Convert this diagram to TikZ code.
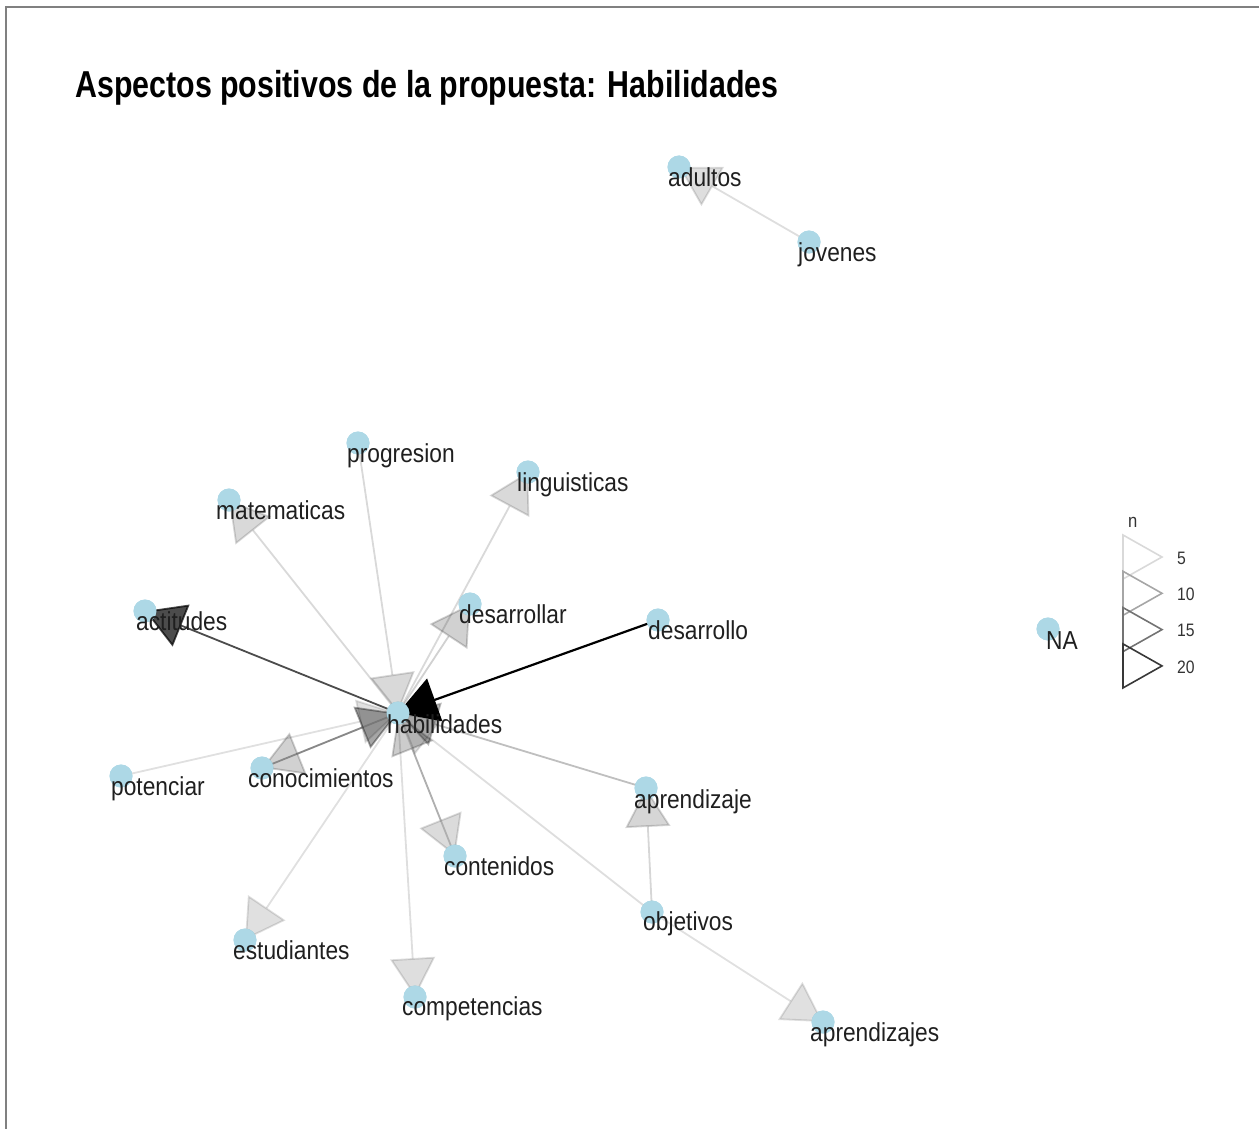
\documentclass[tikz,border=0pt]{standalone}
\usepackage{fontspec}
\setmainfont[FakeStretch=0.875]{Liberation Sans}
\newfontfamily\titlefont[FakeStretch=0.81]{Liberation Sans}
\usetikzlibrary{arrows.meta}

\begin{document}
\begin{tikzpicture}[x=1pt, y=-1pt,
    vtx/.style={circle, fill=lightblue, inner sep=0pt, minimum size=23pt},
    lbl/.style={anchor=base west, inner sep=0pt, text=black!88, font=\fontsize{26}{30}\selectfont},
    edge/.style={draw=black, line width=1.8pt, opacity=#1,
      -{Triangle[length=39pt, width=45pt]}},
    edge/.default=0.15]
  \definecolor{lightblue}{HTML}{ADD8E6}
  \useasboundingbox (0,0) rectangle (1259,1129);
  % marco de la captura
  \draw[gray, line width=2pt] (6,1129) -- (6,7) -- (1259,7);

  % titulo
  \node[anchor=base west, inner sep=0pt, font=\titlefont\bfseries\fontsize{37.5}{42}\selectfont] (title) at (75,98)
    {Aspectos positivos de la propuesta: Habilidades};

  % nodos (palabras)
  \node[vtx] (adu) at (679,167) {};
  \node[vtx] (jov) at (809,242) {};
  \node[vtx] (pro) at (358,443) {};
  \node[vtx] (lin) at (528,472) {};
  \node[vtx] (mat) at (229,500) {};
  \node[vtx] (act) at (145,611) {};
  \node[vtx] (dsr) at (470,604) {};
  \node[vtx] (des) at (658,620) {};
  \node[vtx] (na)  at (1048,629) {};
  \node[vtx] (hab) at (398,713) {};
  \node[vtx] (pot) at (121,776) {};
  \node[vtx] (con) at (262,768) {};
  \node[vtx] (apr) at (646,788) {};
  \node[vtx] (cnt) at (455,856) {};
  \node[vtx] (obj) at (652,912) {};
  \node[vtx] (est) at (245,940) {};
  \node[vtx] (cmp) at (415,997) {};
  \node[vtx] (aps) at (823,1022) {};

  % aristas (bigramas), opacidad segun n
  \draw[edge=0.12] (pot.center) -- (hab.center);
  \draw[edge=0.15] (pro.center) -- (hab.center);
  \draw[edge=0.15] (hab.center) -- (mat.center);
  \draw[edge=0.15] (hab.center) -- (lin.center);
  \draw[edge=0.18] (hab.center) -- (dsr.center);
  \draw[edge=0.18] (hab.center) -- (con.center);
  \draw[edge=0.35] (con.center) -- (hab.center);
  \draw[edge=0.25] (apr.center) -- (hab.center);
  \draw[edge=0.13] (obj.center) -- (hab.center);
  \draw[edge=0.16] (obj.center) -- (apr.center);
  \draw[edge=0.12] (obj.center) -- (aps.center);
  \draw[edge=0.14] (hab.center) -- (cnt.center);
  \draw[edge=0.20] (cnt.center) -- (hab.center);
  \draw[edge=0.13] (hab.center) -- (cmp.center);
  \draw[edge=0.12] (hab.center) -- (est.center);
  \draw[edge=0.13] (jov.center) -- (adu.center);
  \draw[edge=0.70] (hab.center) -- (act.center);
  \draw[edge=1, line width=2.2pt] (des.center) -- (hab.center);

  % redibujar nodos encima de las aristas
  \foreach \v in {adu,jov,pro,lin,mat,act,dsr,des,na,hab,pot,con,apr,cnt,obj,est,cmp,aps}
    \fill[lightblue] (\v) circle (11.5pt);

  % etiquetas
  \node[lbl] (adu-l) at (668,186) {adultos};
  \node[lbl] (jov-l) at (798,261) {jovenes};
  \node[lbl] (pro-l) at (347,462) {progresion};
  \node[lbl] (lin-l) at (517,491) {linguisticas};
  \node[lbl] (mat-l) at (216,519) {matematicas};
  \node[lbl] (act-l) at (136,630) {actitudes};
  \node[lbl] (dsr-l) at (459,623) {desarrollar};
  \node[lbl] (des-l) at (648,639) {desarrollo};
  \node[lbl] (na-l)  at (1046,649) {NA};
  \node[lbl] (hab-l) at (387,733) {habilidades};
  \node[lbl] (pot-l) at (111,795) {potenciar};
  \node[lbl] (con-l) at (248,787) {conocimientos};
  \node[lbl] (apr-l) at (634,808) {aprendizaje};
  \node[lbl] (cnt-l) at (444,875) {contenidos};
  \node[lbl] (obj-l) at (643,930) {objetivos};
  \node[lbl] (est-l) at (233,959) {estudiantes};
  \node[lbl] (cmp-l) at (402,1015) {competencias};
  \node[lbl] (aps-l) at (810,1041) {aprendizajes};

  % leyenda n
  \node[anchor=base west, inner sep=0pt, text=black!80, font=\fontsize{19}{22}\selectfont] (leg-n) at (1128,527) {n};
  \foreach \i/\v/\c in {0/5/15,1/10/35,2/15/55,3/20/78} {
    \draw[black!\c, line width=1.6pt, line join=miter]
      (1123,535+36.3*\i) -- (1162,557+36.3*\i) -- (1123,579+36.3*\i) -- cycle;
    \node[anchor=west, inner sep=0pt, text=black!80, font=\fontsize{18}{21}\selectfont] (leg-\v) at (1177,558+36.3*\i) {\v};
  }
\end{tikzpicture}
\end{document}
